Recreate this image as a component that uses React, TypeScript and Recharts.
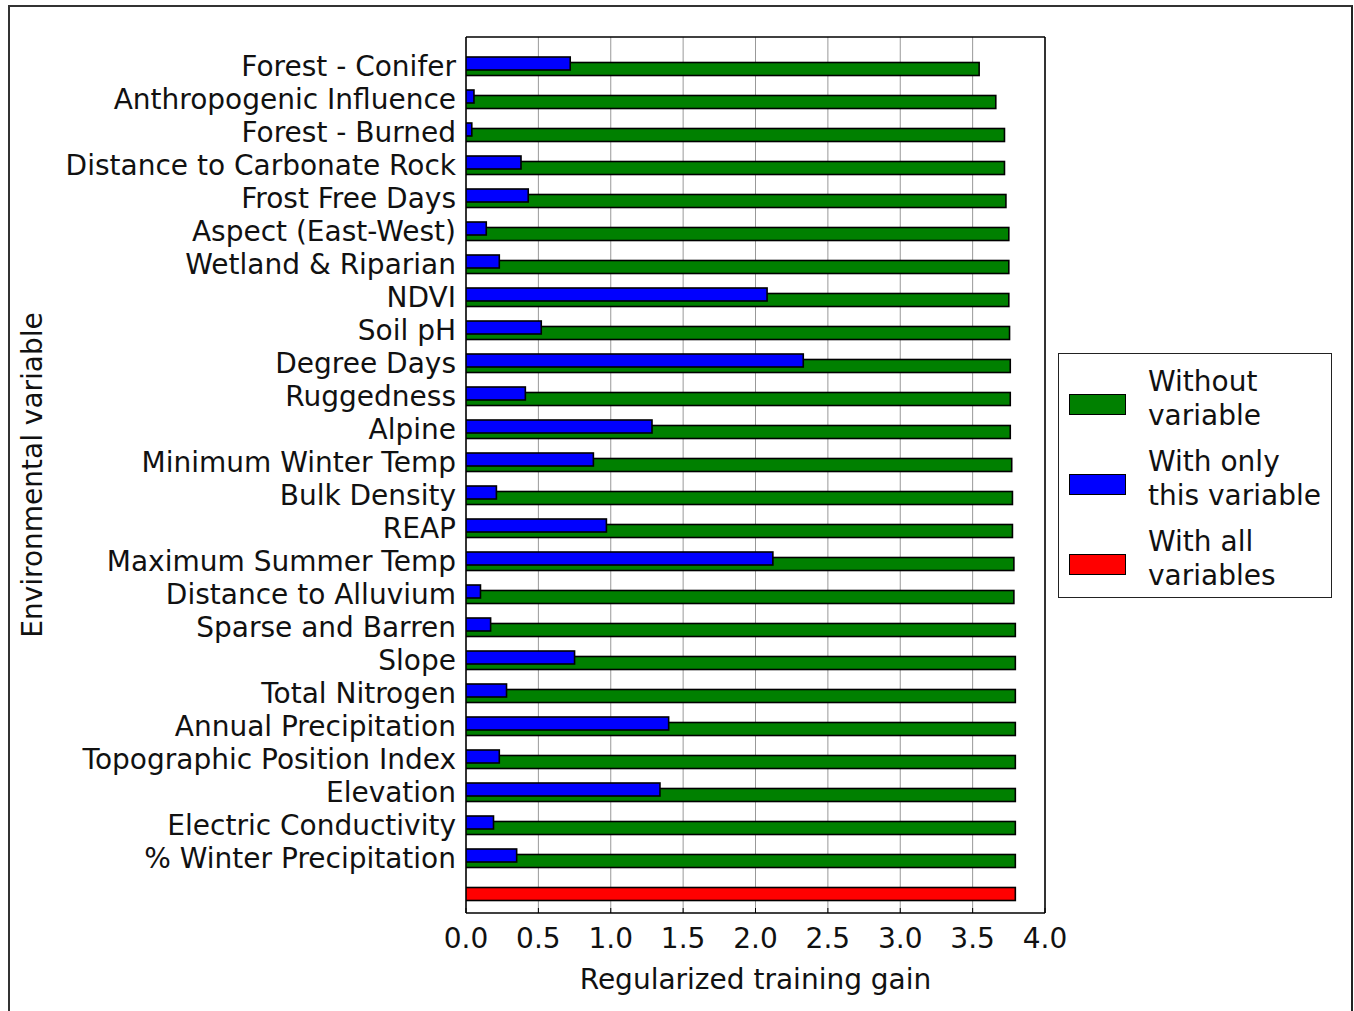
import { Bar, BarChart, CartesianGrid, Label, Legend, XAxis, YAxis } from 'recharts'

const FONT = '"DejaVu Sans", sans-serif'
const FS = 28
const GREEN = '#008000'
const BLUE = '#0000ff'
const RED = '#ff0000'

const variables = [
  'Forest - Conifer',
  'Anthropogenic Influence',
  'Forest - Burned',
  'Distance to Carbonate Rock',
  'Frost Free Days',
  'Aspect (East-West)',
  'Wetland & Riparian',
  'NDVI',
  'Soil pH',
  'Degree Days',
  'Ruggedness',
  'Alpine',
  'Minimum Winter Temp',
  'Bulk Density',
  'REAP',
  'Maximum Summer Temp',
  'Distance to Alluvium',
  'Sparse and Barren',
  'Slope',
  'Total Nitrogen',
  'Annual Precipitation',
  'Topographic Position Index',
  'Elevation',
  'Electric Conductivity',
  '% Winter Precipitation',
]

const withoutVariable = [
  3.545, 3.66, 3.72, 3.72, 3.73, 3.75, 3.75, 3.75, 3.755, 3.76, 3.76, 3.76, 3.77,
  3.775, 3.775, 3.785, 3.785, 3.795, 3.795, 3.795, 3.795, 3.795, 3.795, 3.795, 3.795,
]

const onlyVariable = [
  0.72, 0.055, 0.04, 0.38, 0.43, 0.14, 0.23, 2.08, 0.52, 2.33, 0.41, 1.285, 0.88,
  0.21, 0.97, 2.12, 0.1, 0.17, 0.75, 0.28, 1.4, 0.23, 1.34, 0.19, 0.35,
]

const allVariables = 3.795

const xTicks = [0, 0.5, 1, 1.5, 2, 2.5, 3, 3.5, 4]

const legendOrder = ['Without variable', 'With only this variable', 'With all variables']

const data = [
  ...variables.map((name, i) => ({
    name,
    without: withoutVariable[i],
    only: onlyVariable[i],
  })),
  { name: '', all: allVariables },
]

const yPadding = { top: 13, bottom: 5 }

// bars drawn with a small vertical shift so blue sits over green like the original
const shiftedBar = (dy: number, fill: string) => (props: any) => {
  const { x, y, width, height } = props
  if (!width || !isFinite(width) || !isFinite(y)) return <g />
  return (
    <rect
      x={x}
      y={y + dy}
      width={width}
      height={height}
      fill={fill}
      stroke="#000"
      strokeWidth={1.6}
    />
  )
}

function XTick(props: any) {
  const { x, y, payload } = props
  const base = y - 15
  return (
    <g>
      <line x1={x} x2={x} y1={base} y2={base - 5} stroke="#000" strokeWidth={1} />
      <text
        x={x}
        y={y}
        dy="0.71em"
        textAnchor="middle"
        fill="#111"
        fontSize={FS}
        fontFamily={FONT}
      >
        {Number(payload.value).toFixed(1)}
      </text>
    </g>
  )
}

function LegendBox({ payload }: any) {
  const items = [...(payload || [])].sort(
    (a: any, b: any) => legendOrder.indexOf(a.value) - legendOrder.indexOf(b.value),
  )
  return (
    <div
      style={{
        width: 274,
        height: 245,
        boxSizing: 'border-box',
        border: '1.5px solid #222',
        background: '#fff',
        padding: '5px 0 0 10px',
        fontFamily: FONT,
        fontSize: FS,
        color: '#111',
      }}
    >
      {items.map((item: any) => (
        <div key={item.value} style={{ display: 'flex', alignItems: 'center', height: 80 }}>
          <div
            style={{
              width: 57,
              height: 21,
              boxSizing: 'border-box',
              background: item.color,
              border: '1.5px solid #000',
              marginRight: 22,
              marginTop: 10,
              flexShrink: 0,
            }}
          />
          <div style={{ lineHeight: '34px', maxWidth: 182 }}>{item.value}</div>
        </div>
      ))}
    </div>
  )
}

export default function App() {
  return (
    <div
      style={{
        position: 'fixed',
        left: 0,
        top: 0,
        width: 1354,
        height: 1011,
        overflow: 'hidden',
        background: '#fff',
        fontFamily: FONT,
      }}
    >
      <div
        style={{
          position: 'absolute',
          left: 8,
          top: 5,
          width: 1345,
          height: 1020,
          boxSizing: 'border-box',
          borderTop: '2px solid #333',
          borderLeft: '2px solid #333',
          borderRight: '2px solid #222',
        }}
      />
      <div style={{ position: 'absolute', left: 10, top: 7 }}>
        <BarChart
          width={1335}
          height={1000}
          data={data}
          layout="vertical"
          margin={{ top: 30, right: 300, bottom: 0, left: 0 }}
          style={{ fontFamily: FONT }}
        >
          <CartesianGrid horizontal={false} stroke="#999" strokeWidth={1} />
          <CartesianGrid
            stroke="#000"
            strokeWidth={1.5}
            horizontalCoordinatesGenerator={({ offset }: any) => [offset.top, offset.top + offset.height]}
            verticalCoordinatesGenerator={({ offset }: any) => [offset.left, offset.left + offset.width]}
          />
          <XAxis
            type="number"
            domain={[0, 4]}
            ticks={xTicks}
            allowDataOverflow
            height={94}
            tickSize={6}
            tickMargin={9}
            tickLine={false}
            axisLine={false}
            tick={<XTick />}
          >
            <Label
              value="Regularized training gain"
              position="insideBottom"
              offset={18}
              style={{ fontSize: FS, fill: '#111', fontFamily: FONT }}
            />
          </XAxis>
          <YAxis
            type="category"
            dataKey="name"
            width={456}
            padding={yPadding}
            interval={0}
            tickLine={false}
            axisLine={false}
            tickSize={6}
            tickMargin={4}
            tick={{ fontSize: FS, fill: '#111', fontFamily: FONT }}
          >
            <Label
              value="Environmental variable"
              angle={-90}
              position="insideLeft"
              offset={22}
              style={{ fontSize: FS, fill: '#111', fontFamily: FONT, textAnchor: 'middle' }}
            />
          </YAxis>
          <YAxis yAxisId="b" type="category" dataKey="name" padding={yPadding} hide />
          <YAxis yAxisId="r" type="category" dataKey="name" padding={yPadding} hide />
          <Legend
            layout="horizontal"
            verticalAlign="middle"
            align="center"
            content={<LegendBox />}
            wrapperStyle={{ left: 1048, top: 346, width: 274, height: 245 }}
          />
          <Bar
            dataKey="without"
            name="Without variable"
            fill={GREEN}
            barSize={13}
            shape={shiftedBar(2.5, GREEN)}
            isAnimationActive={false}
          />
          <Bar
            dataKey="only"
            name="With only this variable"
            yAxisId="b"
            fill={BLUE}
            barSize={13}
            shape={shiftedBar(-3, BLUE)}
            isAnimationActive={false}
          />
          <Bar
            dataKey="all"
            name="With all variables"
            yAxisId="r"
            fill={RED}
            barSize={13}
            shape={shiftedBar(2.5, RED)}
            isAnimationActive={false}
          />
        </BarChart>
      </div>
    </div>
  )
}
